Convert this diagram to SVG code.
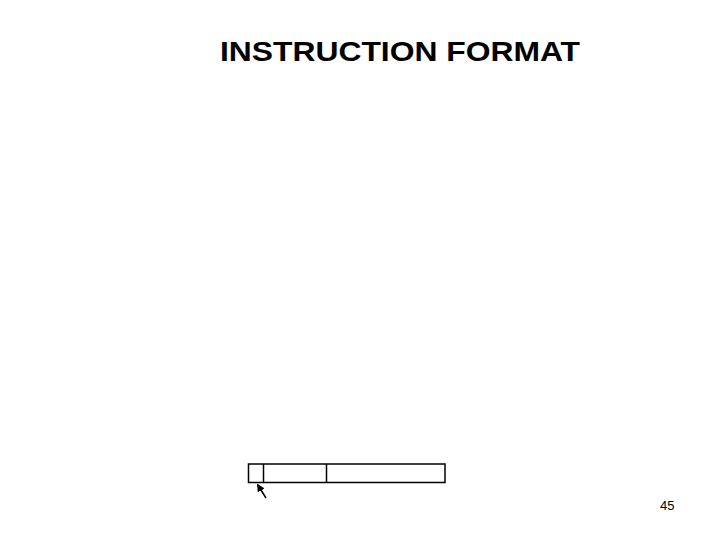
<svg xmlns="http://www.w3.org/2000/svg" width="720" height="540" viewBox="0 0 720 540">
<style>
.t{font-family:"Liberation Sans",Arial,sans-serif;fill:#000}
.box{fill:none;stroke:#000;stroke-width:1.5}
</style>
<defs>
<marker id="ah" markerWidth="8" markerHeight="8" refX="7" refY="4" orient="auto" markerUnits="userSpaceOnUse">
<path d="M0,0 L8,4 L0,8 z" fill="#000"/>
</marker>
</defs>
<rect width="720" height="540" fill="#fff"/>
<text class="t" x="220" y="61" font-size="28" font-weight="bold" textLength="360" lengthAdjust="spacingAndGlyphs">INSTRUCTION FORMAT</text>
<g id="instr">
<rect class="box" x="248.5" y="464" width="196.5" height="18.5"/>
<line class="box" x1="263.5" y1="464" x2="263.5" y2="482.5"/>
<line class="box" x1="326.5" y1="464" x2="326.5" y2="482.5"/>
</g>
<g id="connectors">
<line x1="266" y1="498" x2="257.5" y2="484.5" stroke="#000" stroke-width="1.5" marker-end="url(#ah)"/>
</g>
<text class="t" x="660" y="510" font-size="13">45</text>
</svg>
